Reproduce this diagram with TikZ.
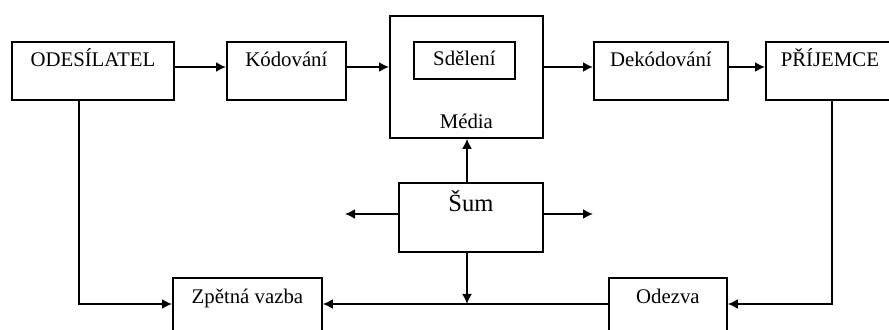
\documentclass[tikz,border=0pt]{standalone}
\usepackage{fontspec}
\setmainfont{Liberation Serif}
\usetikzlibrary{arrows.meta}

\begin{document}
\begin{tikzpicture}[x=0.5pt,y=-0.5pt,>={Latex[length=5pt,width=5pt]},
	blok/.style={draw,line width=0.9pt,anchor=north west,inner sep=0pt,
		font=\fontsize{10.4}{12}\selectfont},
	horni/.style={blok,minimum height=29pt,text height=12.5pt,text depth=16.5pt},
	dolni/.style={blok,minimum height=30pt,text height=13pt,text depth=17pt},
	sipka/.style={->,line width=0.9pt},
	cara/.style={line width=0.9pt}]
	\useasboundingbox (0,0) rectangle (889,330);
	% horni rada
	\node[horni,minimum width=81pt] (ods) at (11,41) {ODESÍLATEL};
	\node[horni,minimum width=59.5pt] (kod) at (226,41) {Kódování};
	\node[blok,minimum width=76.5pt,minimum height=61pt,text height=56.5pt,text depth=4.5pt] (med) at (389,15) {Média};
	\node[blok,minimum width=50.5pt,minimum height=18.5pt,text height=12pt,text depth=6.5pt] (sdel) at (413,41) {Sdělení};
	\node[horni,minimum width=67pt] (dek) at (593,41) {Dekódování};
	\node[horni,minimum width=64pt] (pri) at (765,41) {PŘÍJEMCE};
	% sum
	\node[blok,minimum width=72pt,minimum height=34.5pt,text height=14.5pt,text depth=20pt,
		font=\fontsize{12.3}{14}\selectfont] (sum) at (398,182) {Šum};
	% dolni rada
	\node[dolni,minimum width=74.5pt] (zpet) at (172,277) {Zpětná vazba};
	\node[dolni,minimum width=59pt] (odez) at (608,277) {Odezva};
	% pomocne body
	\coordinate (rada) at (0,67);
	\coordinate (stred) at (467,214);
	\coordinate (vlevo) at (345,214);
	\coordinate (vpravo) at (593,214);
	\coordinate (zpetna) at (0,304);
	\coordinate (odsx) at (79,0);
	\coordinate (prix) at (832,0);
	% spojeni
	\draw[sipka] (rada -| ods.east) -- (rada -| kod.west);
	\draw[sipka] (rada -| kod.east) -- (rada -| med.west);
	\draw[sipka] (rada -| med.east) -- (rada -| dek.west);
	\draw[sipka] (rada -| dek.east) -- (rada -| pri.west);
	\draw[sipka] (stred |- sum.north) -- (stred |- med.south);
	\draw[sipka] (stred -| sum.west) -- (vlevo);
	\draw[sipka] (stred -| sum.east) -- (vpravo);
	\draw[sipka] (stred |- sum.south) -- (stred |- zpetna);
	\draw[sipka] (odsx |- ods.south) -- (odsx |- zpetna) -- (zpetna -| zpet.west);
	\draw[sipka] (prix |- pri.south) -- (prix |- zpetna) -- (zpetna -| odez.east);
	\draw[sipka] (zpetna -| odez.west) -- (zpetna -| zpet.east);
\end{tikzpicture}
\end{document}
